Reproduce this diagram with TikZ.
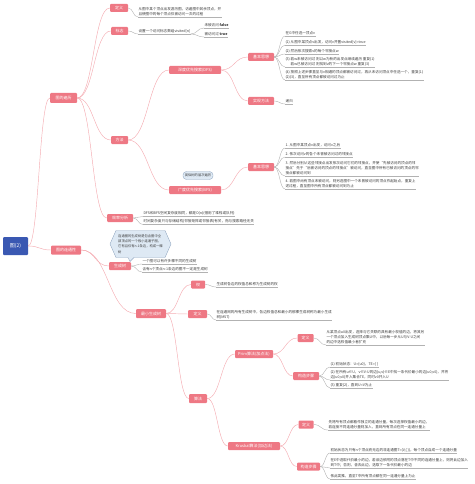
\documentclass[tikz,border=0pt]{standalone}
\usepackage{fontspec}
\setmainfont{Noto Sans CJK SC}
\usetikzlibrary{calc}
\definecolor{pk}{RGB}{238,120,132}
\definecolor{lkc}{RGB}{244,172,178}
\definecolor{gl}{RGB}{178,178,178}
\definecolor{rootc}{RGB}{58,88,178}
\definecolor{cf}{RGB}{222,233,244}
\definecolor{cb}{RGB}{150,170,195}
\definecolor{tx}{RGB}{60,60,60}
\newcommand\lk[3][boxlink]{\draw[#1] let \p1=(#2), \p2=(#3), \n1={0.5*(\x2-\x1)} in (\p1) .. controls +(\n1,0) and +(-\n1,0) .. (\p2);}
\begin{document}
\begin{tikzpicture}[x=1pt,y=-1pt,
  box/.style={fill=pk, text=white, rounded corners=1pt, minimum height=8pt, inner xsep=2pt, inner ysep=0pt, font=\fontsize{4}{4}\selectfont},
  rootbox/.style={fill=rootc, text=white, rounded corners=1pt, minimum width=25pt, minimum height=18pt, inner sep=0pt, font=\fontsize{5}{5}\selectfont},
  leaf/.style={anchor=south west, inner xsep=0.3pt, inner ysep=0.9pt, align=left, text=tx, font=\fontsize{3.6}{5}\selectfont},
  uline/.style={draw=gl, line width=0.4pt},
  boxlink/.style={draw=lkc, line width=0.45pt},
  leaflink/.style={draw=gl, line width=0.4pt},
  callout/.style={fill=cf, draw=cb, line width=0.4pt}]
\useasboundingbox (0,0) rectangle (474,484);
% ---- boxes
\node[rootbox] (root) at (15.5,246) {图(2)};
\node[box, minimum width=27pt, minimum height=10pt] (bl) at (63.5,98) {图的遍历};
\node[box, minimum width=30pt, minimum height=9pt] (lt) at (66,250) {图的连通性};
\node[box, minimum width=18pt] (dy) at (119,8) {定义};
\node[box, minimum width=17pt] (bz) at (119.5,31) {标志};
\node[box, minimum width=17pt] (ff) at (119.5,140) {方法};
\node[box, minimum width=26pt] (xl) at (120,218) {效率分析};
\node[box, minimum width=52pt] (dfs) at (195,70) {深度优先搜索(DFS)};
\node[box, minimum width=52pt] (bfs) at (195,190) {广度优先搜索(BFS)};
\node[box, minimum width=26pt] (dsx) at (261,57) {基本思想};
\node[box, minimum width=26pt] (dss) at (261,101) {实现方法};
\node[box, minimum width=26pt] (bsx) at (261,167) {基本思想};
\node[box, minimum width=22pt] (scs) at (120,266) {生成树};
\node[box, minimum width=30pt, minimum height=9pt] (mst) at (151,313.5) {最小生成树};
\node[box, minimum width=14pt] (qz) at (198,284.5) {权};
\node[box, minimum width=19pt] (md) at (197.5,314) {定义};
\node[box, minimum width=18pt, minimum height=9pt] (sf) at (198,398.5) {算法};
\node[box, minimum width=38pt] (prim) at (254,354) {Prim算法(加点法)};
\node[box, minimum width=52pt] (kru) at (254,446) {Kruskal算法(加边法)};
\node[box, minimum width=16pt] (pd) at (305.5,338) {定义};
\node[box, minimum width=26pt] (pb) at (306,376) {构造步骤};
\node[box, minimum width=15pt] (kd) at (306,424.5) {定义};
\node[box, minimum width=23pt] (kb) at (308.5,466.5) {构造步骤};
% ---- callouts
\node[callout, rounded corners=3.5pt, minimum width=30pt, minimum height=8pt, inner sep=0.5pt, text=tx, font=\fontsize{3.3}{3.3}\selectfont] (cl1) at (198,175.5) {类似树的层次遍历};
\draw[callout] (110,244) -- (116,230.5) -- (165,230.5) -- (171,244) -- (165,257.5) -- (134,257.5) -- (130,261.5) -- (128,257.5) -- (116,257.5) -- cycle;
\node[align=left, inner sep=0pt, text=tx, font=\fontsize{3.3}{5.2}\selectfont] (cl2) at (140.5,244) {连通图的生成树是包含图中全\\部顶点的一个极小连通子图，\\它有且仅有n-1条边，构成一棵\\树};
% ---- leaves
\node[leaf] (t1) at (138,17) {从图中某个顶点出发游历图，访遍图中其余顶点，并\\且使图中的每个顶点仅被访问一次的过程};
\node[leaf] (t2) at (138,34) {设置一个访问标志数组visited[n]};
\node[leaf] (t2a) at (204,28) {未被访问 \textbf{false}};
\node[leaf] (t2b) at (204,37) {被访问过 \textbf{true}};
\node[leaf] (d1) at (285,36) {在G中任选一顶点v};
\node[leaf] (d2) at (285,45) {(1) 从图中某顶点v出发，访问v并置visited[v]=true};
\node[leaf] (d3) at (285,54) {(2) 然后依次搜索v的每个邻接点w};
\node[leaf] (d4) at (285,67) {(3) 若w未被访问过 则以w为新的出发点继续遍历 重复(1)\\\phantom{(3) }若w已被访问过 则找到v的下一个邻接点w 重复(3)};
\node[leaf] (d5) at (285,80) {(4) 按照上述步骤直至与v相通的顶点都被访问过，再从未访问顶点中任选一个，重复(1)\\(2)(3)，直至所有顶点都被访问过为止};
\node[leaf] (s1) at (285,104) {递归};
\node[leaf] (b1) at (285,148) {1. 从图中某顶点v出发，访问v之后};
\node[leaf] (b2) at (285,157) {2. 依次访问v的各个未曾被访问过的邻接点};
\node[leaf] (b3) at (285,176) {3. 然后分别从这些邻接点出发依次访问它们的邻接点，并使“先被访问的顶点的邻\\接点”先于“后被访问的顶点的邻接点”被访问，直至图中所有已被访问的顶点的邻\\接点都被访问到};
\node[leaf] (b4) at (285,189) {4. 若图中尚有顶点未被访问，则另选图中一个未曾被访问的顶点作起始点，重复上\\述过程，直至图中所有顶点都被访问到为止};
\node[leaf] (e1) at (143,216.5) {DFS和BFS空间复杂度相同，都是O(n)(借用了堆栈或队列)};
\node[leaf] (e2) at (143,224.5) {时间复杂度只与存储结构(邻接矩阵或邻接表)有关，而与搜索路径无关};
\node[leaf] (g1) at (142,264) {一个图可以有许多棵不同的生成树};
\node[leaf] (g2) at (142,272) {含有n个顶点n-1条边的图不一定是生成树};
\node[leaf] (w1) at (216,287) {生成树各边的权值总和称为生成树的权};
\node[leaf] (m1) at (216,320) {在连通网的所有生成树中，各边权值总和最小的那棵生成树称为最小生成\\树(MST)};
\node[leaf] (p1) at (326,345) {从某顶点u0出发，选择与它关联的具有最小权值的边，将其另\\一个顶点加入生成树顶点集U中，以后每一步从U与V-U之间\\的边中选权值最小者扩充};
\node[leaf] (pb1) at (330,367) {(1) 初始状态：U=\{u0\}，TE=\{ \}};
\node[leaf] (pb2) at (330,380) {(2) 在所有u∈U，v∈V-U的边(u,v)∈E中找一条代价最小的边(u0,v0)，并将\\边(u0,v0)并入集合TE，同时v0并入U};
\node[leaf] (pb3) at (330,388) {(3) 重复(2)，直到U=V为止};
\node[leaf] (k1) at (328,430) {先将所有顶点都看作独立的连通分量，每次选择权值最小的边，\\若连接不同连通分量则加入，直到所有顶点在同一连通分量上};
\node[leaf] (kb1) at (330,453) {初始状态为只有n个顶点而无边的非连通图T=(V,\{ \})，每个顶点自成一个连通分量};
\node[leaf] (kb2) at (330,468) {在E中选取代价最小的边，若该边依附的顶点落在T中不同的连通分量上，则将此边加入\\到T中；否则，舍去此边，选取下一条代价最小的边};
\node[leaf] (kb3) at (330,479) {依此类推，直至T中所有顶点都在同一连通分量上为止};
% ---- underlines
\foreach \nd in {t1,t2,t2a,t2b,d1,d2,d3,d4,d5,s1,b1,b2,b3,b4,e1,e2,g1,g2,w1,m1,p1,pb1,pb2,pb3,k1,kb1,kb2,kb3}
  \draw[uline] (\nd.south west) -- (\nd.south east);
% ---- box links
\lk{root.east}{bl.west}
\lk{root.east}{lt.west}
\lk{bl.east}{dy.west}
\lk{bl.east}{bz.west}
\lk{bl.east}{ff.west}
\lk{bl.east}{xl.west}
\lk{ff.east}{dfs.west}
\lk{ff.east}{bfs.west}
\lk{dfs.east}{dsx.west}
\lk{dfs.east}{dss.west}
\lk{bfs.east}{bsx.west}
\lk{lt.east}{scs.west}
\lk{lt.east}{mst.west}
\lk{mst.east}{qz.west}
\lk{mst.east}{md.west}
\lk{mst.east}{sf.west}
\lk{sf.east}{prim.west}
\lk{sf.east}{kru.west}
\lk{prim.east}{pd.west}
\lk{prim.east}{pb.west}
\lk{kru.east}{kd.west}
\lk{kru.east}{kb.west}
% ---- leaf links
\lk[leaflink]{dy.east}{t1.south west}
\lk[leaflink]{bz.east}{t2.south west}
\lk[leaflink]{t2.south east}{t2a.south west}
\lk[leaflink]{t2.south east}{t2b.south west}
\foreach \nd in {d1,d2,d3,d4,d5} {\lk[leaflink]{dsx.east}{\nd.south west}}
\lk[leaflink]{dss.east}{s1.south west}
\foreach \nd in {b1,b2,b3,b4} {\lk[leaflink]{bsx.east}{\nd.south west}}
\foreach \nd in {e1,e2} {\lk[leaflink]{xl.east}{\nd.south west}}
\foreach \nd in {g1,g2} {\lk[leaflink]{scs.east}{\nd.south west}}
\lk[leaflink]{qz.east}{w1.south west}
\lk[leaflink]{md.east}{m1.south west}
\lk[leaflink]{pd.east}{p1.south west}
\foreach \nd in {pb1,pb2,pb3} {\lk[leaflink]{pb.east}{\nd.south west}}
\lk[leaflink]{kd.east}{k1.south west}
\foreach \nd in {kb1,kb2,kb3} {\lk[leaflink]{kb.east}{\nd.south west}}
\end{tikzpicture}
\end{document}
